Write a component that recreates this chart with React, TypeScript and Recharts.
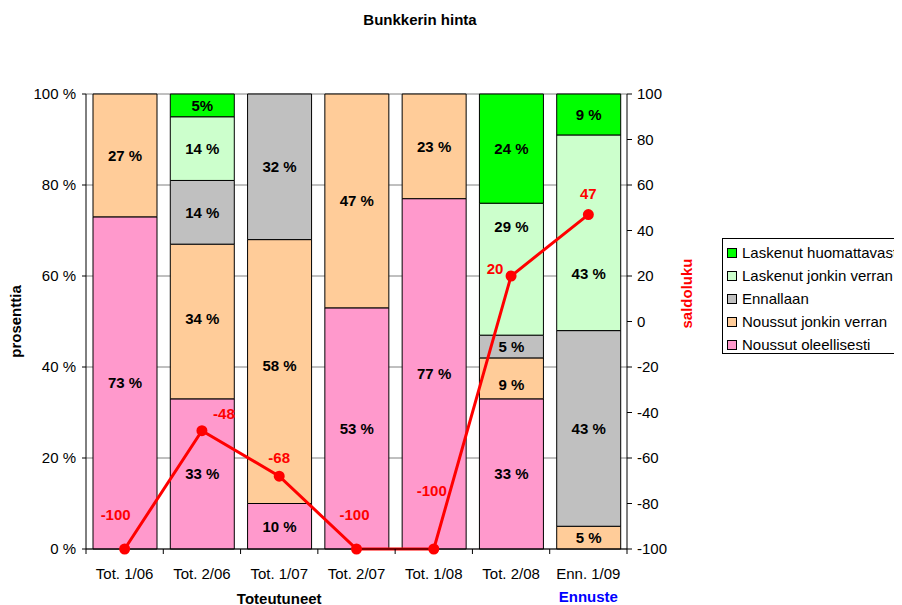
import React from 'react';
import { ComposedChart, Bar, Line, XAxis, YAxis, CartesianGrid, LabelList, Legend } from 'recharts';

const categories = ['Tot. 1/06', 'Tot. 2/06', 'Tot. 1/07', 'Tot. 2/07', 'Tot. 1/08', 'Tot. 2/08', 'Enn. 1/09'];
const noussutOleellisesti = [73, 33, 10, 53, 77, 33, 0];
const noussutJonkinVerran = [27, 34, 58, 47, 23, 9, 5];
const ennallaan = [0, 14, 32, 0, 0, 5, 43];
const laskenutJonkinVerran = [0, 14, 0, 0, 0, 29, 43];
const laskenutHuomattavasti = [0, 5, 0, 0, 0, 24, 9];
const saldoluku = [-100, -48, -68, -100, -100, 20, 47];
const leftTicks = [0, 20, 40, 60, 80, 100];
const rightTicks = [-100, -80, -60, -40, -20, 0, 20, 40, 60, 80, 100];
// label placement (dx, dy) of saldoluku value labels relative to their points
const saldoLabelOffsets = [[-9, -35], [22, -17], [0, -19], [-2, -35], [-2, -59], [-16, -8], [0, -21]];
// labels written without a space in the original
const compactLabels = [{ key: 'lh', index: 1 }];
// manually moved segment labels (vertical shift in px)
const labelShifts = [
  { key: 'nj', index: 1, dy: -3 },
  { key: 'nj', index: 2, dy: -6 },
  { key: 'nj', index: 5, dy: 6 },
  { key: 'lj', index: 5, dy: -43 },
  { key: 'lj', index: 6, dy: 41 },
];

const FONT = '"Liberation Sans", Arial, sans-serif';

const series = [
  { key: 'no', name: 'Noussut oleellisesti', color: '#FF99CC', values: noussutOleellisesti },
  { key: 'nj', name: 'Noussut jonkin verran', color: '#FFCC99', values: noussutJonkinVerran },
  { key: 'en', name: 'Ennallaan', color: '#C0C0C0', values: ennallaan },
  { key: 'lj', name: 'Laskenut jonkin verran', color: '#CCFFCC', values: laskenutJonkinVerran },
  { key: 'lh', name: 'Laskenut huomattavasti', color: '#00FF00', values: laskenutHuomattavasti },
];

const data = categories.map((c, i) => {
  const row: any = { name: c, saldo: saldoluku[i] };
  series.forEach((s) => {
    const v = s.values[i];
    row[s.key] = v;
    const compact = compactLabels.some((cl) => cl.key === s.key && cl.index === i);
    const shift = labelShifts.find((ls) => ls.key === s.key && ls.index === i);
    row[s.key + 'Lbl'] = v ? { text: compact ? `${v}%` : `${v} %`, dy: shift ? shift.dy : 0 } : null;
  });
  return row;
});

const BarLabel = (props: any) => {
  const { x, y, width, height, value } = props;
  if (!value || typeof value !== 'object') return null;
  return (
    <text
      x={x + width / 2}
      y={y + height / 2 + value.dy}
      textAnchor="middle"
      dominantBaseline="central"
      fontFamily={FONT}
      fontSize={15}
      fontWeight="bold"
      fill="#000"
    >
      {value.text}
    </text>
  );
};

const SaldoLabel = (props: any) => {
  const { x, y, value, index } = props;
  const off = saldoLabelOffsets[index] || [0, -20];
  return (
    <text
      x={x + off[0]}
      y={y + off[1]}
      textAnchor="middle"
      dominantBaseline="central"
      fontFamily={FONT}
      fontSize={15}
      fontWeight="bold"
      fill="#FF0000"
    >
      {value}
    </text>
  );
};

const XTick = (props: any) => {
  const { x, y, payload, index } = props;
  const half = payload && payload.offset ? payload.offset : 541 / categories.length / 2;
  const isLast = index === categories.length - 1;
  return (
    <g>
      <line x1={x - half} y1={y} x2={x - half} y2={y + 5} stroke="#000" />
      {isLast && <line x1={x + half} y1={y} x2={x + half} y2={y + 5} stroke="#000" />}
      <text x={x} y={y + 24} textAnchor="middle" dominantBaseline="central" fontFamily={FONT} fontSize={15} fill="#000">
        {payload.value}
      </text>
      {index === 2 && (
        <text x={x} y={y + 49} textAnchor="middle" dominantBaseline="central" fontFamily={FONT} fontSize={15} fontWeight="bold" fill="#000">
          Toteutuneet
        </text>
      )}
      {isLast && (
        <text x={x} y={y + 47} textAnchor="middle" dominantBaseline="central" fontFamily={FONT} fontSize={15} fontWeight="bold" fill="#0000FF">
          Ennuste
        </text>
      )}
    </g>
  );
};

const LegendContent = () => (
  <div
    style={{
      border: '1px solid #000',
      background: '#fff',
      height: 112,
      paddingTop: 2,
      boxSizing: 'content-box',
      width: 240,
      fontFamily: FONT,
      fontSize: 15,
      color: '#000',
    }}
  >
    {[...series].reverse().map((s) => (
      <div key={s.key} style={{ height: 23, display: 'flex', alignItems: 'center', whiteSpace: 'nowrap' }}>
        <span
          style={{
            display: 'inline-block',
            width: 8,
            height: 8,
            border: '1px solid #000',
            background: s.color,
            marginLeft: 4,
            marginRight: 5,
          }}
        />
        <span>{s.name}</span>
      </div>
    ))}
  </div>
);

export default function App() {
  return (
    <div style={{ position: 'relative', width: 894, height: 597, overflow: 'hidden', background: '#fff' }}>
      <div
        style={{
          position: 'absolute',
          top: 3,
          left: 212,
          width: 400,
          textAlign: 'center',
          fontFamily: FONT,
          fontSize: 15,
          fontWeight: 'bold',
          lineHeight: '18px',
          zIndex: 2,
        }}
      >
        Bunkkerin hinta
      </div>
      <ComposedChart width={894} height={597} data={data} margin={{ top: 86, right: 215, bottom: 0, left: 0 }}>
        <CartesianGrid yAxisId="left" vertical={false} stroke="#808080" />
        <XAxis
          dataKey="name"
          height={56}
          tickLine={false}
          tickSize={0}
          tickMargin={0}
          interval={0}
          stroke="#000"
          tick={<XTick />}
        />
        <YAxis
          yAxisId="left"
          width={78}
          domain={[0, 100]}
          ticks={leftTicks}
          tickFormatter={(v: number) => `${v} %`}
          tickSize={4}
          tickMargin={6}
          stroke="#000"
          tick={{ fill: '#000', fontSize: 15, fontFamily: FONT }}
          interval={0}
          label={{
            content: (p: any) => {
              const vb = p.viewBox;
              return (
                <text
                  x={vb.x + 7}
                  y={vb.y + vb.height / 2}
                  transform={`rotate(-90 ${vb.x + 7} ${vb.y + vb.height / 2})`}
                  textAnchor="middle"
                  dominantBaseline="central"
                  fontFamily={FONT}
                  fontSize={15}
                  fontWeight="bold"
                  fill="#000"
                >
                  prosenttia
                </text>
              );
            },
          }}
        />
        <YAxis
          yAxisId="right"
          orientation="right"
          width={60}
          domain={[-100, 100]}
          ticks={rightTicks}
          tickSize={5}
          tickMargin={5}
          stroke="#000"
          tick={{ fill: '#000', fontSize: 15, fontFamily: FONT }}
          interval={0}
          label={{
            content: (p: any) => {
              const vb = p.viewBox;
              const cx = vb.x + 59;
              const cy = vb.y + vb.height / 2 - 28;
              return (
                <text
                  x={cx}
                  y={cy}
                  transform={`rotate(-90 ${cx} ${cy})`}
                  textAnchor="middle"
                  dominantBaseline="central"
                  fontFamily={FONT}
                  fontSize={15}
                  fontWeight="bold"
                  fill="#FF0000"
                >
                  saldoluku
                </text>
              );
            },
          }}
        />
        {series.map((s) => (
          <Bar
            key={s.key}
            yAxisId="left"
            dataKey={s.key}
            name={s.name}
            stackId="a"
            fill={s.color}
            stroke="#000"
            strokeWidth={1}
            barSize={64}
            isAnimationActive={false}
          >
            <LabelList dataKey={s.key + 'Lbl'} content={<BarLabel />} />
          </Bar>
        ))}
        <Line
          yAxisId="right"
          dataKey="saldo"
          type="linear"
          stroke="#FF0000"
          strokeWidth={3}
          dot={{ r: 4, fill: '#FF0000', stroke: '#FF0000' }}
          isAnimationActive={false}
          label={(p: any) => <SaldoLabel {...p} />}
        />
        <Legend
          layout="horizontal"
          align="center"
          verticalAlign="middle"
          wrapperStyle={{ left: 714, top: 230, width: 240, height: 116 }}
          content={<LegendContent />}
        />
      </ComposedChart>
    </div>
  );
}
